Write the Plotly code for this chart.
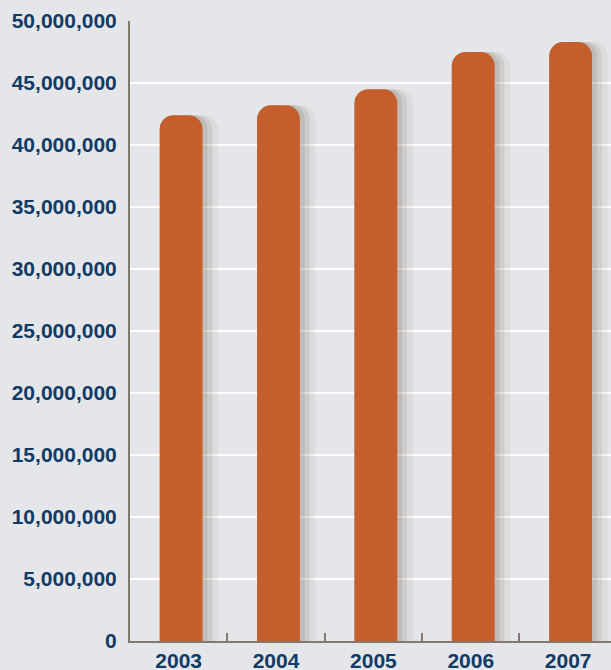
import plotly.graph_objects as go

years = ["2003", "2004", "2005", "2006", "2007"]
values = [42400000, 43200000, 44500000, 47500000, 48300000]
y_ticks = [0, 5000000, 10000000, 15000000, 20000000, 25000000,
           30000000, 35000000, 40000000, 45000000, 50000000]
y_tick_labels = ["0", "5,000,000", "10,000,000", "15,000,000", "20,000,000",
                 "25,000,000", "30,000,000", "35,000,000", "40,000,000",
                 "45,000,000", "50,000,000"]

bar_w = 0.44
bar_off = -0.195
fig = go.Figure()
# soft shadow layers to the right of each bar
for extra, alpha in [(0.16, 0.08), (0.10, 0.12), (0.05, 0.15)]:
    fig.add_trace(go.Bar(
        x=years, y=values, width=bar_w + extra, offset=bar_off,
        marker=dict(color=f"rgba(110,95,75,{alpha})", line=dict(width=0),
                    cornerradius=14),
        hoverinfo="skip", showlegend=False))
fig.add_trace(go.Bar(
    x=years, y=values, width=bar_w, offset=bar_off,
    marker=dict(color="#C55E2D", line=dict(width=0), cornerradius=14),
    showlegend=False))

label_font = dict(family="Liberation Sans, Arial, sans-serif", size=21,
                  color="#0F3B66", weight="bold")
fig.update_layout(
    width=611, height=670,
    margin=dict(l=130, r=0, t=21, b=29),
    paper_bgcolor="#E5E6EA", plot_bgcolor="#E5E6EA",
    barmode="overlay",
    font=label_font,
    xaxis=dict(range=[-0.5, 4.44], showgrid=False, showline=True,
               linecolor="#85796B", linewidth=2, ticks="inside",
               tickson="boundaries", ticklen=8, tickwidth=2,
               tickcolor="#85796B", tickfont=label_font, fixedrange=True,
               automargin=False, ticklabelstandoff=0),
    yaxis=dict(range=[0, 50000000], tickvals=y_ticks, ticktext=y_tick_labels,
               showgrid=True, gridcolor="#FFFFFF", gridwidth=2,
               showline=True, linecolor="#85796B", linewidth=2,
               ticks="", tickfont=label_font, ticklabelstandoff=7,
               zeroline=False, fixedrange=True, automargin=False),
)
fig.write_html(
    "out.html",
    config={"displayModeBar": False},
    post_script="document.body.style.margin='0';"
                "document.body.style.overflow='hidden';",
)
